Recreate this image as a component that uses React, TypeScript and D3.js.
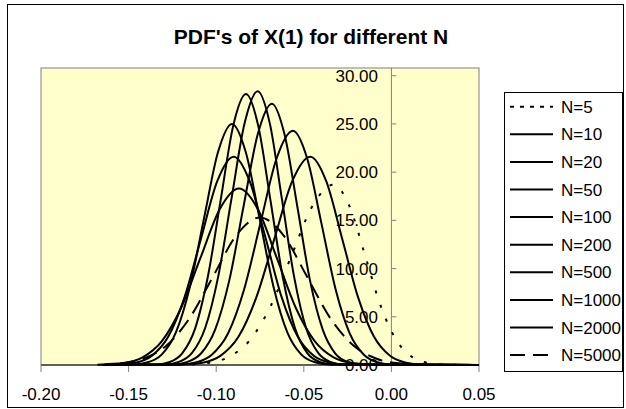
import * as d3 from 'd3'

const title = "PDF's of X(1) for different N"
const xTicks = [-0.2, -0.15, -0.1, -0.05, 0, 0.05]
const yTicks = [0, 5, 10, 15, 20, 25, 30]

const seriesLabels = ['N=5', 'N=10', 'N=20', 'N=50', 'N=100', 'N=200', 'N=500', 'N=1000', 'N=2000', 'N=5000']

// points, one x list and one y list per curve
const xN5 = [-0.165, -0.117, -0.105, -0.093, -0.081, -0.069, -0.057, -0.045, -0.033, -0.024, -0.015, -0.006, 0.003, 0.012, 0.021, 0.03, 0.05]
const yN5 = [0, 0.04, 0.21, 0.82, 2.53, 6.07, 11.34, 16.5, 18.7, 16.5, 11.34, 6.07, 2.53, 0.82, 0.21, 0.04, 0]

const xN10 = [-0.165, -0.1181, -0.1078, -0.0976, -0.0873, -0.0771, -0.0668, -0.0566, -0.0463, -0.0372, -0.0281, -0.019, -0.0099, -0.0008, 0.0083, 0.0174, 0.05]
const yN10 = [0, 0.05, 0.24, 0.95, 2.92, 7.01, 13.1, 19.06, 21.6, 19.06, 13.1, 7.01, 2.92, 0.95, 0.24, 0.05, 0]

const xN20 = [-0.165, -0.121, -0.1117, -0.1025, -0.0932, -0.084, -0.0747, -0.0655, -0.0562, -0.0481, -0.04, -0.0319, -0.0238, -0.0157, -0.0076, 0.0005, 0.05]
const yN20 = [0, 0.05, 0.27, 1.07, 3.29, 7.89, 14.74, 21.44, 24.3, 21.44, 14.74, 7.89, 3.29, 1.07, 0.27, 0.05, 0]

const xN50 = [-0.165, -0.1249, -0.1168, -0.1087, -0.1006, -0.0925, -0.0844, -0.0763, -0.0682, -0.061, -0.0537, -0.0465, -0.0392, -0.032, -0.0247, -0.0175, 0.05]
const yN50 = [0, 0.06, 0.3, 1.19, 3.67, 8.8, 16.44, 23.92, 27.1, 23.92, 16.44, 8.8, 3.67, 1.19, 0.3, 0.06, 0]

const xN100 = [-0.165, -0.1288, -0.1213, -0.1138, -0.1063, -0.0988, -0.0913, -0.0838, -0.0763, -0.0694, -0.0625, -0.0556, -0.0487, -0.0418, -0.0349, -0.028, 0.05]
const yN100 = [0, 0.06, 0.32, 1.25, 3.84, 9.22, 17.22, 25.06, 28.4, 25.06, 17.22, 9.22, 3.84, 1.25, 0.32, 0.06, 0]

const xN200 = [-0.165, -0.1338, -0.1265, -0.1193, -0.112, -0.1048, -0.0975, -0.0903, -0.083, -0.076, -0.069, -0.062, -0.055, -0.048, -0.041, -0.034, 0.05]
const yN200 = [0, 0.06, 0.31, 1.23, 3.8, 9.12, 17.04, 24.8, 28.1, 24.8, 17.04, 9.12, 3.8, 1.23, 0.31, 0.06, 0]

const xN500 = [-0.165, -0.147, -0.139, -0.131, -0.123, -0.115, -0.107, -0.099, -0.091, -0.0831, -0.0752, -0.0673, -0.0594, -0.0515, -0.0436, -0.0357, 0.05]
const yN500 = [0, 0.06, 0.28, 1.1, 3.38, 8.12, 15.16, 22.06, 25.0, 22.06, 15.16, 8.12, 3.38, 1.1, 0.28, 0.06, 0]

const xN1000 = [-0.165, -0.1555, -0.1461, -0.1368, -0.1274, -0.1181, -0.1087, -0.0994, -0.09, -0.0809, -0.0717, -0.0626, -0.0534, -0.0443, -0.0351, -0.026, 0.05]
const yN1000 = [0, 0.05, 0.24, 0.95, 2.92, 7.01, 13.1, 19.06, 21.6, 19.06, 13.1, 7.01, 2.92, 0.95, 0.24, 0.05, 0]

const xN2000 = [-0.165, -0.164, -0.153, -0.142, -0.131, -0.12, -0.109, -0.098, -0.087, -0.0762, -0.0654, -0.0546, -0.0438, -0.033, -0.0222, -0.0114, 0.05]
const yN2000 = [0, 0.04, 0.2, 0.8, 2.48, 5.94, 11.1, 16.15, 18.3, 16.15, 11.1, 5.94, 2.48, 0.8, 0.2, 0.04, 0]

const xN5000 = [-0.1678, -0.1545, -0.1413, -0.128, -0.1148, -0.1015, -0.0883, -0.075, -0.0618, -0.0485, -0.0353, -0.022, -0.0088, 0.0045, 0.0178, 0.05]
const yN5000 = [0.03, 0.17, 0.67, 2.07, 4.97, 9.28, 13.5, 15.3, 13.5, 9.28, 4.97, 2.07, 0.67, 0.17, 0.03, 0]

const seriesX = [xN5, xN10, xN20, xN50, xN100, xN200, xN500, xN1000, xN2000, xN5000]
const seriesY = [yN5, yN10, yN20, yN50, yN100, yN200, yN500, yN1000, yN2000, yN5000]

const font = 'Liberation Sans, Arial, sans-serif'

function dashFor(i: number, legend: boolean) {
  if (i === 0) return legend ? '4,6' : '3,12'
  if (i === seriesLabels.length - 1) return '15,8'
  return undefined
}

export default function App() {
  const width = 626
  const height = 409
  const plot = { left: 41, right: 479, top: 68, bottom: 365 }

  const x = d3.scaleLinear().domain([-0.2, 0.05]).range([plot.left, plot.right])
  const y = d3.scaleLinear().domain([0, 30.8]).range([plot.bottom, plot.top])

  const line = d3
    .line<[number, number]>()
    .x((d) => x(d[0]))
    .y((d) => y(d[1]))
    .curve(d3.curveMonotoneX)

  const x0 = x(0)
  const legendTop = 92
  const legendStep = 27.6

  return (
    <svg
      width={width}
      height={height}
      style={{ position: 'absolute', left: 0, top: 0, display: 'block', background: '#fff' }}
      fontFamily={font}
    >
      <rect x={7.5} y={4.5} width={616} height={403} fill='#fff' stroke='#000' />
      <text x={311} y={44} textAnchor='middle' fontSize={21} fontWeight='bold'>
        {title}
      </text>

      <rect
        x={plot.left}
        y={plot.top}
        width={plot.right - plot.left}
        height={plot.bottom - plot.top}
        fill='#ffffcc'
        stroke='#808080'
      />

      {/* y axis at x = 0 */}
      <line x1={x0} x2={x0} y1={plot.top} y2={plot.bottom} stroke='#808080' />
      {yTicks.map((t) => (
        <g key={'y' + t}>
          <line x1={x0} x2={x0 + 5} y1={y(t)} y2={y(t)} stroke='#808080' />
          <text x={378} y={y(t)} dy='0.36em' textAnchor='end' fontSize={17}>
            {t.toFixed(2)}
          </text>
        </g>
      ))}

      {/* x axis */}
      <line x1={plot.left} x2={plot.right} y1={plot.bottom} y2={plot.bottom} stroke='#000' />
      {xTicks.map((t) => (
        <g key={'x' + t}>
          <line x1={x(t)} x2={x(t)} y1={plot.bottom} y2={plot.bottom + 7} stroke='#808080' />
          <text x={x(t)} y={400} textAnchor='middle' fontSize={17}>
            {t.toFixed(2)}
          </text>
        </g>
      ))}

      <g clipPath='url(#plotClip)'>
        {seriesX.map((xs, i) => (
          <path
            key={seriesLabels[i]}
            d={line(xs.map((v, j) => [v, seriesY[i][j]] as [number, number])) || ''}
            fill='none'
            stroke='#000'
            strokeWidth={2}
            strokeDasharray={dashFor(i, false)}
          />
        ))}
      </g>
      <defs>
        <clipPath id='plotClip'>
          <rect x={plot.left} y={plot.top - 2} width={plot.right - plot.left} height={plot.bottom - plot.top + 4} />
        </clipPath>
      </defs>

      <rect x={504.5} y={92.5} width={118} height={279} fill='#fff' stroke='#000' />
      {seriesLabels.map((name, i) => {
        const ly = legendTop + 14.7 + i * legendStep
        return (
          <g key={'lg' + name}>
            <line
              x1={510}
              x2={553}
              y1={ly}
              y2={ly}
              stroke='#000'
              strokeWidth={2}
              strokeDasharray={dashFor(i, true)}
            />
            <text x={561} y={ly} dy='0.36em' fontSize={17}>
              {name}
            </text>
          </g>
        )
      })}
    </svg>
  )
}
